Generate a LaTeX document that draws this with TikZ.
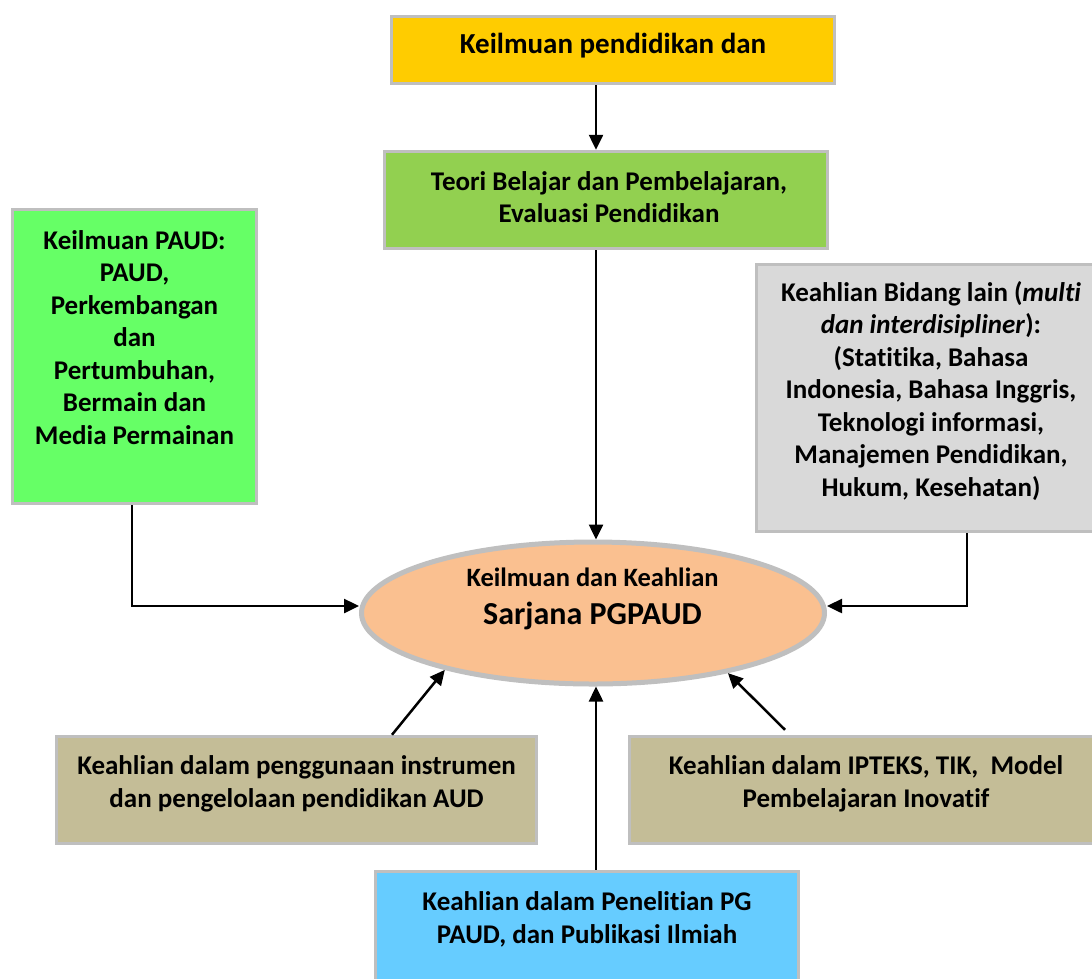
\documentclass[tikz,border=0pt]{standalone}
\usepackage{fontspec}
\setmainfont[Ligatures=NoCommon]{Carlito}
\usetikzlibrary{arrows.meta,shapes.geometric}
\definecolor{bord}{HTML}{BFBFBF}
\definecolor{ctop}{HTML}{FFCC00}
\definecolor{cgreen}{HTML}{92D050}
\definecolor{cleft}{HTML}{66FF66}
\definecolor{cright}{HTML}{D9D9D9}
\definecolor{cell}{HTML}{FAC090}
\definecolor{ctan}{HTML}{C4BD97}
\definecolor{cblue}{HTML}{66CCFF}
\begin{document}
\begin{tikzpicture}[x=1pt,y=-1pt,
  box/.style={draw=bord,line width=3.5pt,rectangle,inner sep=0pt},
  txt/.style={font=\bfseries\fontsize{27}{32.5}\selectfont,align=center,inner sep=0pt},
  arr/.style={line width=2.5pt,-{Triangle[length=15pt,width=14pt]}}]
\useasboundingbox (0,0) rectangle (1092,978);
\clip (0,0) rectangle (1092,978);
% boxes
\node[box,fill=ctop,minimum width=443,minimum height=67] (top) at (613,50) {};
\node[box,fill=cgreen,minimum width=443,minimum height=97] (green) at (606,200) {};
\node[box,fill=cleft,minimum width=244,minimum height=294] (left) at (134.5,356.5) {};
\node[box,fill=cright,minimum width=349,minimum height=267] (right) at (931,398) {};
\node[box,fill=ctan,minimum width=480,minimum height=107] (bl) at (296.5,790) {};
\node[box,fill=ctan,minimum width=469,minimum height=107] (br) at (864,790) {};
\node[box,fill=cblue,minimum width=423,minimum height=117] (bot) at (587,930) {};
\node[ellipse,draw=bord,line width=5pt,fill=cell,minimum width=463,minimum height=142,inner sep=0pt] (ell) at (593,613) {};
% texts
\node[txt,font=\bfseries\fontsize{29}{34}\selectfont] (ttop) at (613,46) {Keilmuan pendidikan dan};
\node[txt] (tgreen) at (609,197) {Teori Belajar dan Pembelajaran,\\Evaluasi Pendidikan};
\node[txt] (tleft) at (134.5,337.5) {Keilmuan PAUD:\\PAUD,\\Perkembangan\\dan\\Pertumbuhan,\\ Bermain dan\\Media Permainan};
\node[txt] (tright) at (931,391) {Keahlian Bidang lain (\textit{multi}\\\textit{dan interdisipliner}):\\(Statitika, Bahasa\\Indonesia, Bahasa Inggris,\\Teknologi informasi,\\Manajemen Pendidikan,\\Hukum, Kesehatan)};
\node[txt] (tbl) at (296.5,784) {Keahlian dalam penggunaan instrumen\\dan pengelolaan pendidikan AUD};
\node[txt] (tbr) at (866,784) {Keahlian dalam IPTEKS, TIK,~ Model\\Pembelajaran Inovatif};
\node[txt] (tbot) at (587,919.5) {Keahlian dalam Penelitian PG\\PAUD, dan Publikasi Ilmiah};
\node[txt,anchor=base,font=\bfseries\fontsize{26.5}{31}\selectfont] (tell1) at (592.5,586) {Keilmuan dan Keahlian};
\node[txt,anchor=base,font=\bfseries\fontsize{32}{38}\selectfont] (tell2) at (592.5,624) {Sarjana PGPAUD};
% connectors
\coordinate (ax) at (596,0);
\draw[arr] (top.south -| ax) -- (green.north -| ax);
\draw[arr] (green.south -| ax) -- (ell.north -| ax);
\draw[arr] ([xshift=-2.5pt]left.south) |- ([yshift=7pt]ell.west);
\draw[arr] ([xshift=36pt]right.south) |- ([yshift=7pt]ell.east);
\draw[arr] ([xshift=95.5pt]bl.north) -- (ell.201);
\draw[arr] ([xshift=-79pt,yshift=5pt]br.north) -- (ell.336);
\draw[arr] (bot.north -| ax) -- (ell.south -| ax);
\end{tikzpicture}
\end{document}
